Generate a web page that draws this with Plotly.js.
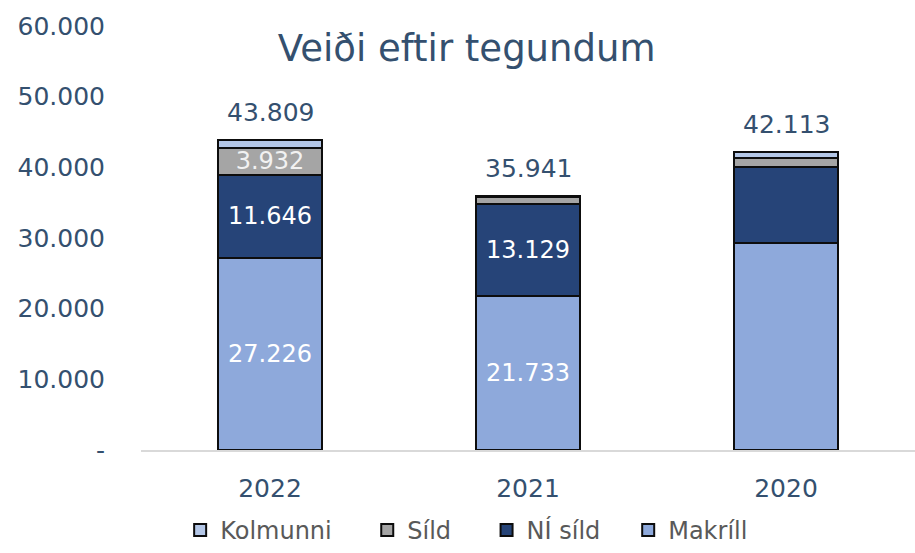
<!DOCTYPE html>
<html><head><meta charset="utf-8">
<script src="https://cdn.plot.ly/plotly-3.0.1.min.js"></script>
<style>body{margin:0;background:#fff}#c{width:915px;height:553px}</style>
</head><body><div id="c"></div>
<script>
const years = ["2022", "2021", "2020"];
const makrill = [27226, 21733, 29300];
const niSild = [11646, 13129, 10800];
const sild = [3932, 930, 1250];
const kolmunni = [1005, 149, 763];
const totals = [43809, 35941, 42113];
const makrillLabels = ["27.226", "21.733", ""];
const niSildLabels = ["11.646", "13.129", ""];
const sildLabels = ["3.932", "", ""];
const yTickVals = [0, 10000, 20000, 30000, 40000, 50000, 60000];
const yTickText = ["-", "10.000", "20.000", "30.000", "40.000", "50.000", "60.000"];
const totalLabels = ["43.809", "35.941", "42.113"];

const FONT = "DejaVu Sans, Verdana, sans-serif";
const TXT = "#34506f";
const PAD = "\u00a0\u00a0\u00a0\u00a0";
const line = {color: "#0d0d0d", width: 2};
function bar(name, y, color, text, tcol) {
  return {type: "bar", name: name, x: years, y: y,
    marker: {color: color, line: line},
    text: text, textposition: "inside", insidetextanchor: "middle",
    textangle: 0, constraintext: "none",
    insidetextfont: {family: FONT, size: 24, color: tcol},
    hoverinfo: "skip"};
}
const data = [
  bar("Makríll", makrill, "#8EA9DB", makrillLabels, "#ffffff"),
  bar("NÍ síld\u00a0\u00a0\u00a0", niSild, "#264478", niSildLabels, "#ffffff"),
  bar("Síld" + PAD, sild, "#A5A5A5", sildLabels, "#f2f2f2"),
  bar("Kolmunni" + PAD, kolmunni, "#B4C7E7", kolmunni.map(() => ""), "#ffffff")
];
const annotations = years.map((yr, i) => ({
  x: i, y: totals[i], text: totalLabels[i], showarrow: false,
  yanchor: "bottom", yshift: 11, font: {family: FONT, size: 25, color: TXT}
}));
const layout = {
  width: 915, height: 553,
  margin: {l: 141, r: 0, t: 26, b: 103, autoexpand: false},
  barmode: "stack", bargap: 0.6,
  paper_bgcolor: "#fff", plot_bgcolor: "#fff",
  title: {text: "Veiði eftir tegundum", xref: "container", yref: "container",
    x: 0.51, xanchor: "center", y: 0.913, yanchor: "middle",
    font: {family: FONT, size: 37, color: TXT}},
  showlegend: true,
  legend: {orientation: "h", traceorder: "reversed", xref: "container", yref: "container",
    x: 0.51, xanchor: "center", y: -0.02, yanchor: "bottom",
    font: {family: FONT, size: 24, color: "#595959"}},
  xaxis: {type: "category", categoryarray: years, categoryorder: "array", range: [-0.5, 2.5],
    showline: true, linecolor: "#d9d9d9", linewidth: 1.5,
    ticks: "outside", ticklen: 15, tickcolor: "rgba(0,0,0,0)",
    tickfont: {family: FONT, size: 25, color: TXT}, showgrid: false},
  yaxis: {range: [0, 60000], tickvals: yTickVals, ticktext: yTickText, showgrid: false,
    zeroline: false, showline: false, ticks: "outside", ticklen: 30, tickcolor: "rgba(0,0,0,0)",
    tickfont: {family: FONT, size: 25, color: TXT}},
  annotations: annotations,
  font: {family: FONT}
};
Plotly.newPlot("c", data, layout, {staticPlot: true});
</script></body></html>
